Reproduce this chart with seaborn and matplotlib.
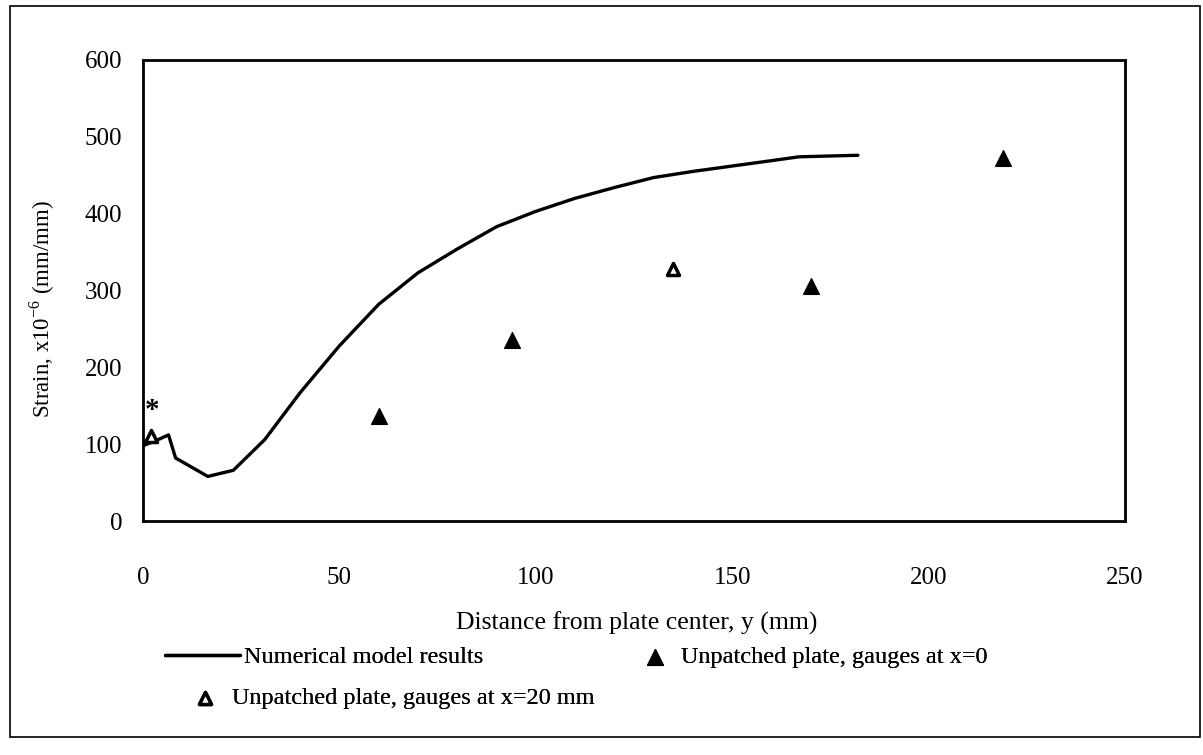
import matplotlib
matplotlib.use('Agg')
import matplotlib.pyplot as plt
import matplotlib.patches as patches
import seaborn as sns
import pandas as pd

# numerical model curve
model_y_pos = [0, 3, 6.5, 8.3, 16.5, 23, 31, 40, 50, 60, 70, 80, 90, 100,
               110, 120, 130, 140, 150, 160, 167, 182]
model_strain = [98, 104, 112, 82, 58, 66, 106, 167, 228, 282, 323, 354, 383, 403,
                420, 434, 447, 455, 462, 469, 474, 476]

# unpatched plate, gauges at x=0
gauge0_y = [60, 94, 170, 219]
gauge0_strain = [137, 235, 306, 472]

# unpatched plate, gauges at x=20 mm
gauge20_y = [2, 135]
gauge20_strain = [111, 328]

sns.set_style("white", {"text.color": "black", "axes.labelcolor": "black",
                        "xtick.color": "black", "ytick.color": "black"})
plt.rcParams['font.family'] = ['Liberation Serif', 'DejaVu Serif']
plt.rcParams['mathtext.fontset'] = 'custom'
plt.rcParams['mathtext.rm'] = 'Liberation Serif'

model = pd.DataFrame({"y": model_y_pos, "strain": model_strain})
g0 = pd.DataFrame({"y": gauge0_y, "strain": gauge0_strain})
g20 = pd.DataFrame({"y": gauge20_y, "strain": gauge20_strain})

W, H = 1203, 755
fig = plt.figure(figsize=(W / 100, H / 100), dpi=100)
ax = fig.add_axes([143/W, 1-521/H, (1125-143)/W, (521-60)/H])

sns.lineplot(data=model, x="y", y="strain", ax=ax, color="black", lw=2.4,
             label="Numerical model results")
sns.scatterplot(data=g20, x="y", y="strain", ax=ax, marker="^", s=75,
                facecolor="white", edgecolor="black", linewidth=2.5,
                label="Unpatched plate, gauges at x=20 mm", zorder=4)
sns.scatterplot(data=g0, x="y", y="strain", ax=ax, marker="^", s=130,
                color="black", edgecolor="black",
                label="Unpatched plate, gauges at x=0", zorder=4)
ax.text(2.4, 144, "*", fontsize=21, fontweight="bold", ha="center", va="center")

ax.set_xlim(0, 250)
ax.set_ylim(0, 600)
ax.set_xticks([0, 50, 100, 150, 200, 250])
ax.set_yticks([0, 100, 200, 300, 400, 500, 600])
ax.tick_params(axis="x", length=0, pad=33, labelsize=18)
ax.tick_params(axis="y", length=0, pad=15, labelsize=18)
for s in ax.spines.values():
    s.set_linewidth(2)
    s.set_color("black")

ax.set_xlabel("Distance from plate center, y (mm)", fontsize=18.5)
ax.set_ylabel(r"Strain, x10$^{\mathregular{-6}}$ (mm/mm)", fontsize=16.5)
ax.xaxis.set_label_coords(0.503, -0.197)
ax.yaxis.set_label_coords(-0.088, 0.46)

# legend laid out like the spreadsheet one: two entries on the first row, one below
h, l = ax.get_legend_handles_labels()
ax.get_legend().remove()
leg_kw = dict(loc="center left", frameon=False, fontsize=17.5, borderpad=0,
              borderaxespad=0)
spots = {
    "Numerical model results": (165, 657, 3.1, 0.15),
    "Unpatched plate, gauges at x=0": (643, 657, 1.0, 0.55),
    "Unpatched plate, gauges at x=20 mm": (193, 698, 1.0, 0.6),
}
for handle, label in zip(h, l):
    px, py, hl, tp = spots[label]
    lg = fig.legend([handle], [label], bbox_to_anchor=(px / W, 1 - py / H),
                    handlelength=hl, handletextpad=tp, **leg_kw)
    fig.add_artist(lg)

fig.patches.append(patches.Rectangle((10/W, 1-737/H), 1190/W, 731/H,
                                     transform=fig.transFigure, fill=False,
                                     edgecolor="black", lw=1.2))

fig.savefig("out.png", dpi=100)
